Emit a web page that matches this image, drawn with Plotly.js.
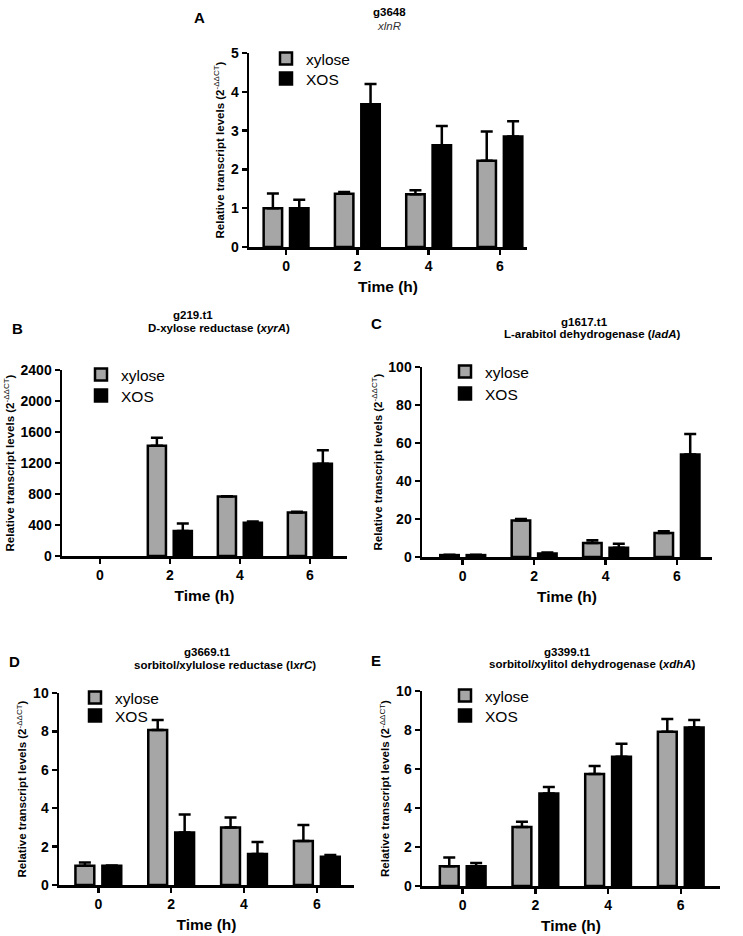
<!DOCTYPE html>
<html>
<head>
<meta charset="utf-8">
<script src="https://cdn.plot.ly/plotly-3.0.1.min.js"></script>
<style>
  html, body { margin: 0; padding: 0; background: #fff; }
  #chart { width: 743px; height: 936px; }
</style>
</head>
<body>
<div id="chart"></div>
<script>
// ---- data ----
const CATS = ['0', '2', '4', '6'];
const SERIES = ['xylose', 'XOS'];

// A: g3648 xlnR
const A_XYL    = [1.00, 1.37, 1.36, 2.22];
const A_XYL_SD = [0.38, 0.05, 0.10, 0.76];
const A_XOS    = [1.00, 3.68, 2.62, 2.85];
const A_XOS_SD = [0.22, 0.52, 0.50, 0.39];

// B: g219.t1 xyrA (0 h bars too small to see)
const B_XYL    = [null, 1423, 767, 561];
const B_XYL_SD = [0, 103, 5, 9];
const B_XOS    = [null, 321, 429, 1191];
const B_XOS_SD = [0, 99, 17, 172];

// C: g1617.t1 ladA
const C_XYL    = [1.0, 19.2, 7.4, 12.6];
const C_XYL_SD = [0.2, 0.8, 1.4, 1.0];
const C_XOS    = [1.0, 1.9, 4.9, 53.9];
const C_XOS_SD = [0.2, 0.5, 2.1, 10.8];

// D: g3669.t1 lxrC
const D_XYL    = [1.00, 8.07, 3.00, 2.29];
const D_XYL_SD = [0.17, 0.53, 0.52, 0.83];
const D_XOS    = [1.00, 2.73, 1.61, 1.47];
const D_XOS_SD = [0.02, 0.94, 0.63, 0.09];

// E: g3399.t1 xdhA
const E_XYL    = [1.01, 3.03, 5.74, 7.91];
const E_XYL_SD = [0.45, 0.26, 0.42, 0.65];
const E_XOS    = [1.01, 4.74, 6.63, 8.13];
const E_XOS_SD = [0.17, 0.34, 0.66, 0.38];

// ---- page geometry (pixels) ----
const W = 743, H = 936;
const px = x => x / W;
const py = y => 1 - y / H;
const FONT = 'Liberation Sans, Arial, sans-serif';
const GREY = '#a6a6a6';

const panels = [
  { xyl: A_XYL, xylSd: A_XYL_SD, xos: A_XOS, xosSd: A_XOS_SD, ymax: 5, dtick: 1,
    box: [249, 527, 53, 247], xr: [-0.52, 3.38], leg: [286, 59, 79],
    letter: ['A', 199, 17], gene: ['g3648', 389, 12], sub: ['<i>xlnR</i>', 389, 26, false] },
  { xyl: B_XYL, xylSd: B_XYL_SD, xos: B_XOS, xosSd: B_XOS_SD, ymax: 2400, dtick: 400,
    box: [62, 347, 370, 556], xr: [-0.54, 3.53], leg: [101, 375, 396],
    letter: ['B', 17, 328], gene: ['g219.t1', 193, 315], sub: ['D-xylose reductase (<i>xyrA</i>)', 219, 328, true] },
  { xyl: C_XYL, xylSd: C_XYL_SD, xos: C_XOS, xosSd: C_XOS_SD, ymax: 100, dtick: 20,
    box: [422, 712, 367, 557], xr: [-0.57, 3.49], leg: [465, 372, 394],
    letter: ['C', 377, 323], gene: ['g1617.t1', 584, 322], sub: ['L-arabitol dehydrogenase (<i>ladA</i>)', 592, 334, true] },
  { xyl: D_XYL, xylSd: D_XYL_SD, xos: D_XOS, xosSd: D_XOS_SD, ymax: 10, dtick: 2,
    box: [59, 354, 693, 885], xr: [-0.54, 3.51], leg: [95, 698, 716],
    letter: ['D', 15, 661], gene: ['g3669.t1', 208, 652], sub: ['sorbitol/xylulose reductase (l<i>xrC</i>)', 225, 665, true] },
  { xyl: E_XYL, xylSd: E_XYL_SD, xos: E_XOS, xosSd: E_XOS_SD, ymax: 10, dtick: 2,
    box: [422, 720, 691, 886], xr: [-0.56, 3.54], leg: [465, 696, 716],
    letter: ['E', 376, 660], gene: ['g3399.t1', 567, 652], sub: ['sorbitol/xylitol dehydrogenase (<i>xdhA</i>)', 592, 664, true] },
];

const traces = [];
const annotations = [];
const layout = {
  width: W, height: H,
  margin: { l: 0, r: 0, t: 0, b: 0 },
  paper_bgcolor: '#fff', plot_bgcolor: '#fff',
  barmode: 'group', bargap: 0.26, bargroupgap: 0.3,
  showlegend: true,
  font: { family: FONT, color: '#000' },
};

const axisBase = {
  showline: true, linecolor: '#000', linewidth: 2.5,
  ticks: 'outside', ticklen: 5, tickwidth: 2.5, tickcolor: '#000',
  showgrid: false, zeroline: false, fixedrange: true,
  tickfont: { family: FONT, size: 14, weight: 'bold', color: '#000' },
};

panels.forEach((p, i) => {
  const n = i === 0 ? '' : String(i + 1);
  const [x0, x1, yTop, yBot] = p.box;
  const legA = i === 0 ? 'legend' : 'legend' + (2 * i + 1);
  const legB = 'legend' + (2 * i + 2);

  [[p.xyl, p.xylSd, GREY, legA, 1], [p.xos, p.xosSd, '#000', legB, 2]].forEach(([vals, sd, col, leg, k]) => {
    traces.push({
      type: 'bar', name: SERIES[k - 1], x: CATS, y: vals,
      xaxis: 'x' + n, yaxis: 'y' + n, legend: leg,
      marker: { color: col, line: { color: '#000', width: 2.5 } },
      error_y: { type: 'data', symmetric: false, array: sd, arrayminus: sd.map(() => 0),
                 color: '#000', thickness: 2.5, width: 6 },
      hoverinfo: 'skip',
    });
    layout[leg] = {
      x: px(p.leg[0] - 20), y: py(p.leg[k]), xanchor: 'left', yanchor: 'middle',
      bgcolor: 'rgba(0,0,0,0)', borderwidth: 0,
      font: { family: FONT, size: 15.5, color: '#000' },
    };
  });

  layout['xaxis' + n] = {
    ...axisBase, type: 'category', range: p.xr,
    domain: [px(x0), px(x1)], anchor: 'y' + n,
    title: { text: 'Time (h)', standoff: 8,
             font: { family: FONT, size: 15.5, weight: 'bold', color: '#000' } },
  };
  layout['yaxis' + n] = {
    ...axisBase, range: [0, p.ymax], dtick: p.dtick, tick0: 0,
    domain: [py(yBot), py(yTop)], anchor: 'x' + n,
    title: { text: '<b>Relative transcript levels (2</b><sup>-ΔΔCT</sup><b>)</b>', standoff: 4,
             font: { family: FONT, size: 11.5, color: '#000' } },
  };

  annotations.push(
    { text: '<b>' + p.letter[0] + '</b>', x: px(p.letter[1]), y: py(p.letter[2]),
      font: { family: FONT, size: 15 } },
    { text: '<b>' + p.gene[0] + '</b>', x: px(p.gene[1]), y: py(p.gene[2]),
      font: { family: FONT, size: 11.5 } },
    { text: p.sub[3] ? '<b>' + p.sub[0] + '</b>' : p.sub[0], x: px(p.sub[1]), y: py(p.sub[2]),
      font: { family: FONT, size: 11.5, color: p.sub[3] ? '#000' : '#333' } },
  );
});

layout.annotations = annotations.map(a => ({
  ...a, xref: 'paper', yref: 'paper', xanchor: 'center', yanchor: 'middle', showarrow: false,
}));

Plotly.newPlot('chart', traces, layout, { staticPlot: true, displayModeBar: false });
</script>
</body>
</html>
